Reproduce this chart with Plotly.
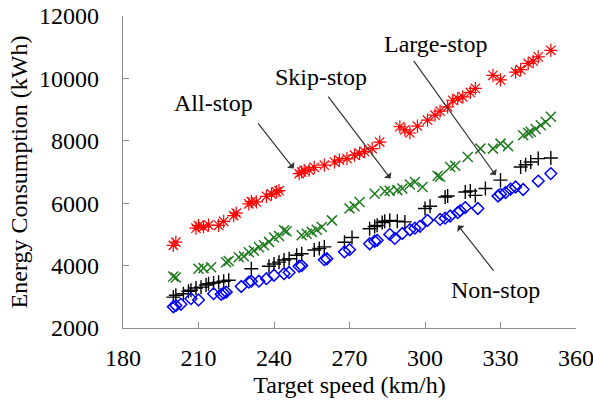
import plotly.graph_objects as go

# All-stop (red)
all_x = [200, 201, 209, 210, 212, 214, 218, 220, 224, 225, 230, 231, 233, 237, 239, 241, 242,
         250, 251, 252, 254, 256, 260, 264, 266, 269, 272, 274, 276, 279, 282, 290, 292, 294,
         297, 301, 304, 306, 309, 311, 313, 315, 318, 320, 327, 330, 336, 338, 341, 343, 345, 350]
all_y = [4650, 4750, 5200, 5280, 5240, 5300, 5290, 5420, 5600, 5680, 5980, 6050, 6040, 6220, 6300, 6360, 6400,
         6950, 7000, 7050, 7060, 7150, 7220, 7320, 7380, 7430, 7540, 7600, 7650, 7750, 7960, 8450, 8350, 8250,
         8470, 8660, 8820, 8950, 9090, 9300, 9350, 9410, 9550, 9680, 10100, 9950, 10200, 10280, 10480, 10550, 10690, 10900]

# Skip-stop (green)
skip_x = [200, 201, 210, 212, 215, 221, 222, 226, 228, 230, 232, 234, 236, 238, 240, 242, 244, 245,
          251, 253, 255, 257, 259, 263, 270, 272, 274, 280, 284, 286, 289, 291, 294, 296, 299,
          305, 306, 310, 312, 317, 322, 327, 330, 333, 339, 341, 342, 344, 346, 348, 350]
skip_y = [3650, 3620, 3900, 3920, 3950, 4110, 4150, 4270, 4300, 4430, 4480, 4590, 4650, 4760, 4900, 4950, 5130, 5100,
          4970, 5020, 5080, 5150, 5240, 5450, 5830, 5900, 6040, 6300, 6380, 6400, 6420, 6470, 6600, 6680, 6520,
          6880, 6850, 7160, 7200, 7480, 7750, 7750, 7910, 7830, 8180, 8250, 8290, 8380, 8500, 8600, 8770]

# Large-stop (black)
large_x = [200, 201, 204, 206, 207, 209, 211, 213, 214, 216, 218, 220, 222, 231, 238, 240, 242, 244, 246,
           249, 251, 256, 258, 260, 268, 271, 278, 280, 281, 283, 284, 286, 289, 292, 300, 302,
           308, 309, 316, 318, 320, 324, 330, 338, 340, 342, 345, 350]
large_y = [2990, 3050, 3100, 3180, 3210, 3280, 3310, 3380, 3420, 3440, 3470, 3500, 3530, 3900, 3980, 4050, 4110, 4180, 4220,
           4330, 4380, 4500, 4550, 4600, 4750, 4900, 5180, 5250, 5290, 5380, 5420, 5450, 5420, 5400, 5830, 5900,
           6200, 6230, 6360, 6390, 6250, 6470, 6740, 7160, 7230, 7320, 7430, 7450]

# Non-stop (blue)
non_x = [200, 201, 203, 207, 210, 216, 219, 220, 221, 227, 230, 231, 234, 237, 240, 244, 246, 250, 251,
         260, 261, 268, 270, 278, 280, 281, 286, 288, 291, 294, 296, 298, 301, 306, 308, 310, 313, 314,
         316, 321, 329, 330, 332, 334, 336, 339, 345, 350]
non_y = [2680, 2720, 2760, 2940, 2900, 3100, 3080, 3120, 3150, 3330, 3470, 3500, 3500, 3580, 3690, 3740, 3780, 3980, 4000,
         4190, 4220, 4440, 4510, 4700, 4780, 4810, 5000, 4870, 5030, 5150, 5200, 5260, 5450, 5480, 5520, 5590, 5700, 5760,
         5860, 5830, 6230, 6290, 6340, 6450, 6520, 6440, 6710, 6950]

x_ticks = [180, 210, 240, 270, 300, 330, 360]
y_ticks = [2000, 4000, 6000, 8000, 10000, 12000]

FONT = "Liberation Serif"
FS = 24

fig = go.Figure()
fig.add_trace(go.Scatter(x=all_x, y=all_y, mode="markers", name="All-stop",
                         marker=dict(symbol="asterisk-open", size=11, color="#ff0000",
                                     line=dict(color="#ff0000", width=1.2))))
fig.add_trace(go.Scatter(x=skip_x, y=skip_y, mode="markers", name="Skip-stop",
                         marker=dict(symbol="x-thin-open", size=10, color="#1f7a1f",
                                     line=dict(color="#1f7a1f", width=1.5))))
fig.add_trace(go.Scatter(x=large_x, y=large_y, mode="markers", name="Large-stop",
                         marker=dict(symbol="cross-thin-open", size=10, color="#000000",
                                     line=dict(color="#000000", width=1.4))))
fig.add_trace(go.Scatter(x=non_x, y=non_y, mode="markers", name="Non-stop",
                         marker=dict(symbol="diamond-open", size=9, color="#0000ff",
                                     line=dict(color="#0000ff", width=1.5))))

labels = [
    ("All-stop", 215.8, 9207, 247.8, 7111, 233.2, 8607),
    ("Skip-stop", 258.8, 10042, 286.3, 6790, 261.1, 9464),
    ("Large-stop", 304.2, 11101, 328.1, 6896, 295.1, 10610),
    ("Non-stop", 328.0, 3205, 313.1, 5291, 327.7, 3792),
]
for text, tx, ty, hx, hy, tlx, tly in labels:
    fig.add_annotation(x=tx, y=ty, text=text, showarrow=False,
                       font=dict(family=FONT, size=FS, color="#000"))
    fig.add_annotation(x=hx, y=hy, ax=tlx, ay=tly, axref="x", ayref="y", text="",
                       showarrow=True, arrowhead=1, arrowsize=1.3, arrowwidth=1.2,
                       arrowcolor="#333333")

axis_common = dict(showline=True, linecolor="#8c8c8c", linewidth=1.3, ticks="inside",
                   ticklen=6, tickcolor="#8c8c8c", tickwidth=1.3, showgrid=False, zeroline=False,
                   automargin=False, ticklabeloverflow="allow",
                   tickfont=dict(family=FONT, size=FS, color="#000"))

fig.update_layout(
    width=593, height=405,
    margin=dict(l=123, r=17, t=16, b=77),
    paper_bgcolor="white", plot_bgcolor="white",
    showlegend=False,
    xaxis=dict(range=[180, 360], tickvals=x_ticks, ticktext=[str(v) for v in x_ticks],
               ticklabelstandoff=8,
               title=dict(text="Target speed (km/h)", font=dict(family=FONT, size=FS, color="#000"), standoff=6),
               **axis_common),
    yaxis=dict(range=[2000, 12000], tickvals=y_ticks, ticktext=[str(v) for v in y_ticks],
               ticklabelstandoff=18,
               title=dict(text="Energy Consumption (kWh)", font=dict(family=FONT, size=FS, color="#000"), standoff=4),
               **axis_common),
)

# remove the default 8px page margin so the figure fills the window exactly
fig.write_html("out.html", config={"displayModeBar": False},
               post_script="document.body.style.margin='0';document.body.style.overflow='hidden';")
